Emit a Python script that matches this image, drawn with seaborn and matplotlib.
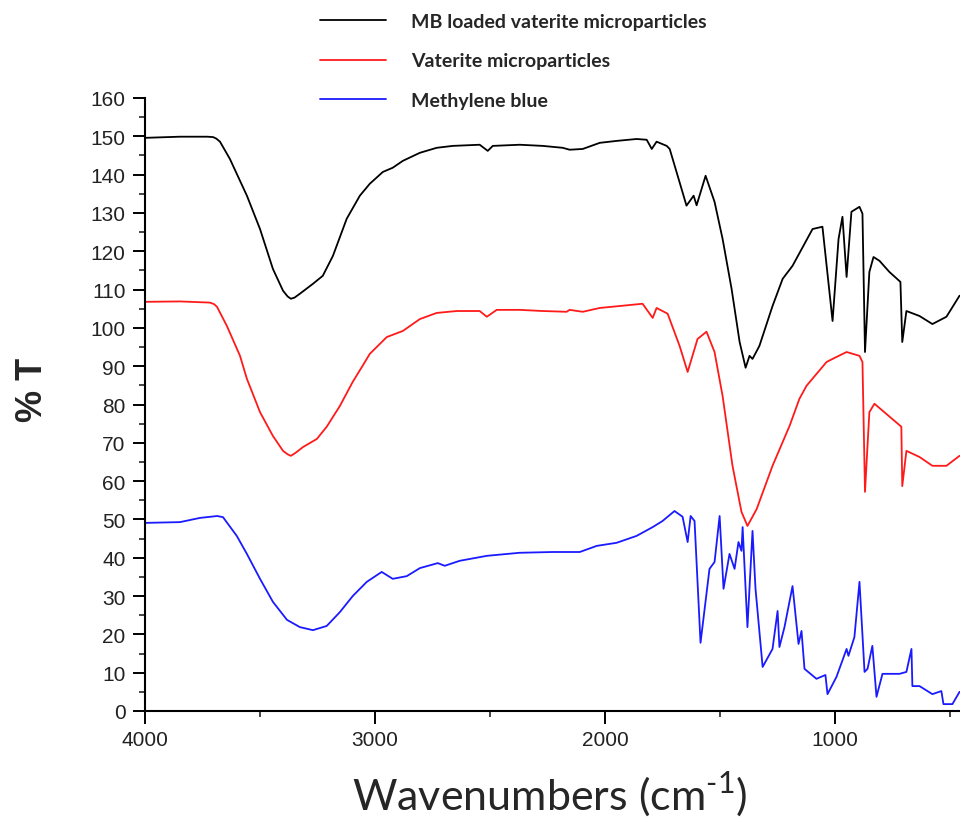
import matplotlib
matplotlib.use("Agg")
import matplotlib.pyplot as plt
from matplotlib.ticker import MultipleLocator
import seaborn as sns
import pandas as pd

# ---------------- data ----------------
series_names = ["MB loaded vaterite microparticles", "Vaterite microparticles", "Methylene blue"]

mb_loaded_wn = [4000, 3848, 3730, 3704, 3690, 3674, 3631, 3557, 3500, 3444, 3400, 3380, 3366, 3350, 3327,
                3270, 3227, 3183, 3123, 3066, 3023, 2966, 2923, 2879, 2805, 2732, 2662, 2545, 2510, 2488,
                2371, 2271, 2184, 2154, 2097, 2023, 1950, 1863, 1819, 1797, 1776, 1732, 1719, 1676, 1646,
                1615, 1602, 1563, 1524, 1489, 1450, 1415, 1389, 1372, 1359, 1329, 1272, 1228, 1185, 1098,
                1055, 1011, 985, 968, 950, 929, 894, 881, 870, 851, 833, 807, 764, 716, 708, 690,
                633, 577, 516, 459]
mb_loaded_t = [149.6, 149.9, 149.9, 149.8, 149.4, 148.6, 144.1, 134.5, 125.8, 115.4, 109.7, 108.2, 107.6,
               107.9, 108.9, 111.5, 113.6, 118.8, 128.5, 134.5, 137.6, 140.7, 141.8, 143.6, 145.7, 147.0,
               147.5, 147.8, 146.2, 147.5, 147.8, 147.5, 147.0, 146.5, 146.7, 148.3, 148.8, 149.3, 149.1,
               146.7, 148.6, 147.5, 146.7, 138.0, 131.9, 134.5, 132.0, 139.7, 132.9, 123.2, 110.2, 96.3,
               89.6, 92.7, 91.9, 95.3, 105.7, 112.8, 116.2, 125.8, 126.4, 101.8, 123.2, 129.0, 113.3,
               130.3, 131.6, 129.8, 93.7, 114.6, 118.5, 117.5, 114.6, 112.0, 96.3, 104.4, 103.1, 101.0,
               102.9, 108.4]

vaterite_wn = [4000, 3848, 3718, 3700, 3687, 3644, 3587, 3557, 3500, 3444, 3400, 3380, 3366, 3345, 3313,
               3253, 3210, 3153, 3097, 3050, 3023, 2949, 2879, 2805, 2732, 2645, 2545, 2514, 2471, 2371,
               2271, 2167, 2154, 2097, 2023, 1937, 1837, 1793, 1776, 1728, 1676, 1641, 1598, 1559, 1524,
               1489, 1446, 1407, 1381, 1341, 1272, 1198, 1155, 1124, 1037, 1011, 950, 894, 881, 870,
               851, 829, 751, 712, 708, 690, 633, 577, 516, 459]
vaterite_t = [106.8, 106.9, 106.6, 106.2, 105.5, 100.5, 92.7, 86.7, 78.0, 71.8, 67.9, 67.0, 66.6, 67.4,
              68.9, 71.0, 74.2, 79.6, 85.9, 90.5, 93.2, 97.6, 99.2, 102.3, 103.9, 104.4, 104.4, 102.9,
              104.7, 104.7, 104.4, 104.2, 104.7, 104.2, 105.2, 105.7, 106.3, 102.6, 105.2, 103.7, 95.3,
              88.5, 97.1, 99.0, 93.7, 82.2, 64.0, 52.0, 48.3, 52.7, 64.0, 74.4, 81.5, 84.9, 91.1, 91.9,
              93.7, 92.7, 91.1, 57.2, 78.0, 80.2, 76.2, 74.2, 58.7, 67.9, 66.3, 64.0, 64.0, 66.6]

mblue_wn = [4000, 3848, 3761, 3700, 3687, 3661, 3601, 3557, 3500, 3444, 3383, 3327, 3270, 3210, 3153,
            3097, 3036, 2971, 2923, 2862, 2805, 2727, 2697, 2632, 2514, 2371, 2228, 2110, 2036, 1950,
            1863, 1793, 1750, 1698, 1663, 1641, 1628, 1611, 1585, 1546, 1524, 1502, 1485, 1459, 1437,
            1420, 1407, 1402, 1381, 1359, 1346, 1315, 1272, 1250, 1242, 1220, 1185, 1159, 1146, 1133,
            1081, 1042, 1033, 994, 950, 942, 916, 894, 872, 859, 838, 820, 794, 720, 690, 668, 664,
            633, 577, 538, 529, 490, 459]
mblue_t = [49.1, 49.3, 50.4, 50.8, 50.9, 50.6, 45.7, 41.0, 34.5, 28.5, 23.8, 21.9, 21.1, 22.2, 25.8,
           30.0, 33.7, 36.3, 34.5, 35.2, 37.3, 38.6, 37.9, 39.2, 40.5, 41.3, 41.5, 41.5, 43.1, 43.9,
           45.7, 48.0, 49.6, 52.2, 50.7, 44.1, 50.9, 49.6, 17.8, 37.1, 38.9, 50.9, 31.9, 41.0, 37.1,
           44.1, 41.8, 48.0, 21.9, 47.0, 31.9, 11.5, 16.2, 26.1, 16.7, 21.9, 32.6, 17.5, 20.9, 11.0,
           8.4, 9.4, 4.4, 8.9, 16.2, 14.4, 19.3, 33.7, 10.2, 11.0, 17.0, 3.7, 9.7, 9.7, 10.2, 16.2,
           6.5, 6.5, 4.4, 5.2, 1.8, 1.8, 5.0]

series_colors = ["#000000", "#ff1a1a", "#1a1aff"]

x_ticks = [4000, 3000, 2000, 1000]
y_ticks = list(range(0, 161, 10))
x_label = "Wavenumbers (cm$^{\\text{-1}}$)"
y_label = "% T"

# ---------------- build table ----------------
frames = []
for name, wn, t in zip(series_names,
                       [mb_loaded_wn, vaterite_wn, mblue_wn],
                       [mb_loaded_t, vaterite_t, mblue_t]):
    frames.append(pd.DataFrame({"wavenumber": wn, "T": t, "sample": name}))
df = pd.concat(frames, ignore_index=True)

# ---------------- plot ----------------
sns.set_theme(style="ticks")
plt.rcParams["font.family"] = ["Liberation Sans", "DejaVu Sans"]
plt.rcParams["mathtext.fontset"] = "custom"
plt.rcParams["mathtext.rm"] = "Lato"

fig = plt.figure(figsize=(9.6, 8.2), dpi=100)
ax = fig.add_axes([145 / 960, 108 / 820, (960 - 145) / 960, (712 - 99) / 820])

sns.lineplot(data=df, x="wavenumber", y="T", hue="sample", hue_order=series_names,
             palette=series_colors, units="sample", estimator=None, sort=False,
             linewidth=1.3, ax=ax, legend=True)

ax.set_xlim(4000, 457)
ax.set_ylim(0, 160)
ax.set_xticks(x_ticks)
ax.set_yticks(y_ticks)
ax.xaxis.set_minor_locator(MultipleLocator(500))
ax.yaxis.set_minor_locator(MultipleLocator(5))
ax.tick_params(which="major", direction="out", length=9, width=1.4, labelsize=15,
               colors="#000000", pad=5)
ax.tick_params(which="minor", direction="out", length=4.5, width=1.2)
for lab in ax.get_xticklabels() + ax.get_yticklabels():
    lab.set_color("#222222")

for side in ["top", "right"]:
    ax.spines[side].set_visible(False)
for side in ["left", "bottom"]:
    ax.spines[side].set_linewidth(1.5)
    ax.spines[side].set_color("#000000")

ax.set_xlabel(x_label, fontsize=31, family=["Lato", "DejaVu Sans"])
ax.xaxis.set_label_coords((550 - 145) / 815, -(794 - 712) / 613, transform=ax.transAxes)
ax.xaxis.label.set_va("center")
ax.set_ylabel(y_label, fontsize=26, fontweight="bold")
ax.yaxis.set_label_coords(-(145 - 33) / 815, (712 - 390) / 613, transform=ax.transAxes)
ax.yaxis.label.set_va("center")

handles, labels = ax.get_legend_handles_labels()
ax.legend(handles, labels, loc="upper left", bbox_to_anchor=(320 / 960, 1 - 14 / 820),
          bbox_transform=fig.transFigure, frameon=False, handlelength=3.4,
          handletextpad=1.3, labelspacing=1.15, borderpad=0, borderaxespad=0,
          prop={"family": ["Lato", "DejaVu Sans"], "weight": "bold", "size": 14})

fig.savefig("out.png", dpi=100)
